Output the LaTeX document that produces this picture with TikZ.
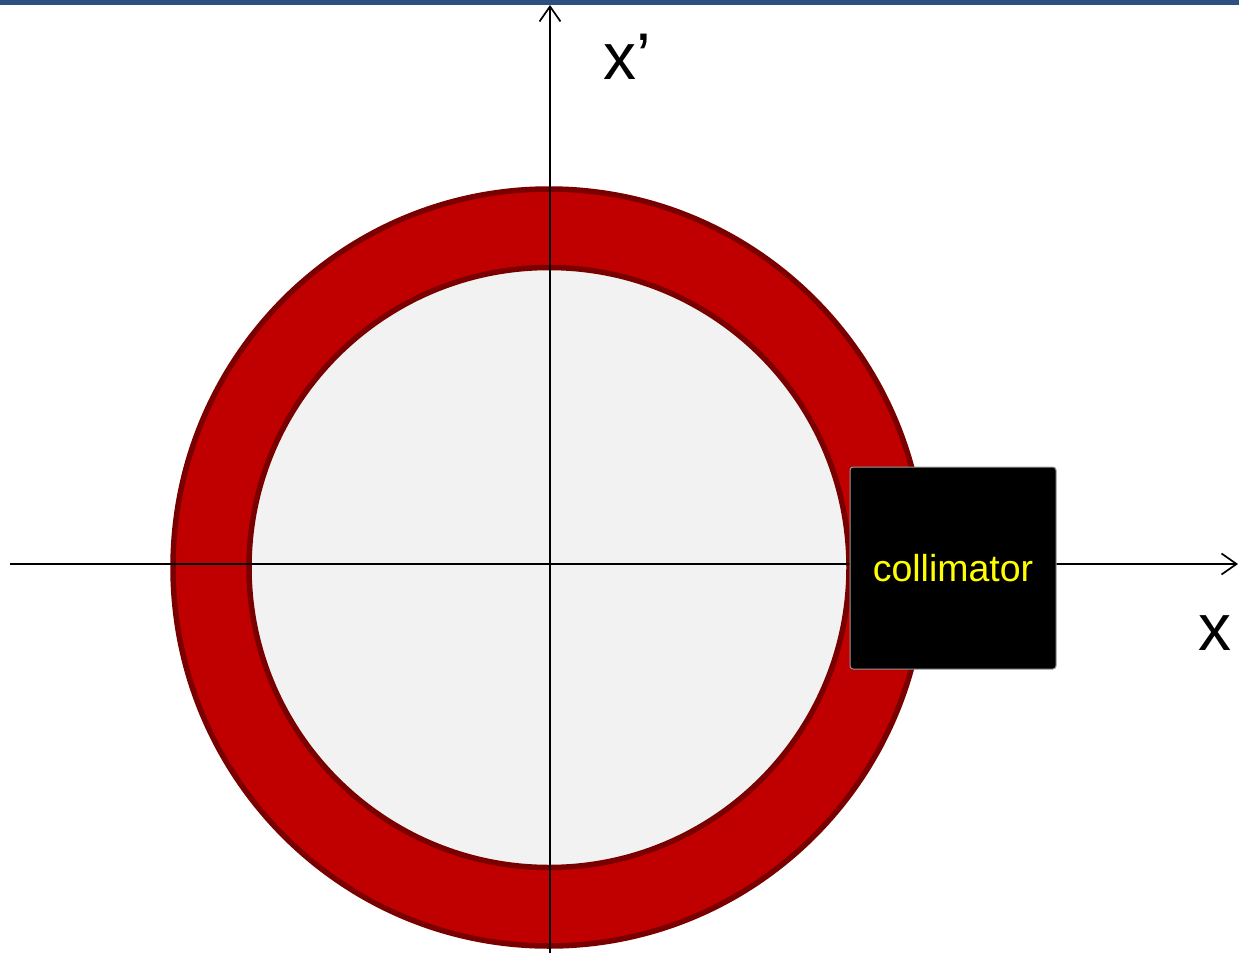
\documentclass[tikz,border=0pt]{standalone}
\usepackage{fontspec}
\setmainfont{Liberation Sans}
\usepackage{xcolor}
\definecolor{rouge}{HTML}{C00000}
\definecolor{rougefonce}{HTML}{7A0000}
\definecolor{grisclair}{HTML}{F2F2F2}
\definecolor{bleubarre}{HTML}{2C5082}
\definecolor{jaune}{HTML}{FFFF00}
\usepackage{tikz}
\usetikzlibrary{positioning,arrows.meta,calc,shapes.geometric}

\begin{document}
\begin{tikzpicture}[
  x=1pt,y=-1pt,
  anneau/.style={draw=rougefonce,line width=5.5pt},
  axe/.style={line width=1.8pt,-{Straight Barb[length=15pt,width=21pt,line width=1.7pt]}},
  etiquette/.style={font=\fontsize{66}{72}\selectfont,inner sep=0pt},
  bloc/.style={draw=black!40,fill=black,line width=1pt,rounded corners=3pt,minimum width=206pt,minimum height=202pt,inner sep=0pt,text=jaune,font=\fontsize{37.5}{42}\selectfont}
]
\useasboundingbox (0,0) rectangle (1239,953);
\fill[bleubarre] (0,0) rectangle (1239,4.5);
% anneau et zone interne
\draw[anneau,fill=rouge] (549,567.5) ellipse [x radius=376, y radius=378.5];
\draw[anneau,fill=grisclair] (549,567.5) ellipse [x radius=300, y radius=300];
% axes
\coordinate (xg) at (10,564);
\coordinate (xd) at (1238,564);
\coordinate (yb) at (550,953);
\coordinate (yh) at (550,5);
\draw[axe] (xg) -- (xd);
\draw[axe] (yb) -- (yh);
\node[etiquette] (lxp) at (627,57) {x’};
\node[etiquette] (lx) at (1215,633) {x};
% collimateur
\node[bloc] (col) at (953,568) {collimator};
\end{tikzpicture}
\end{document}
